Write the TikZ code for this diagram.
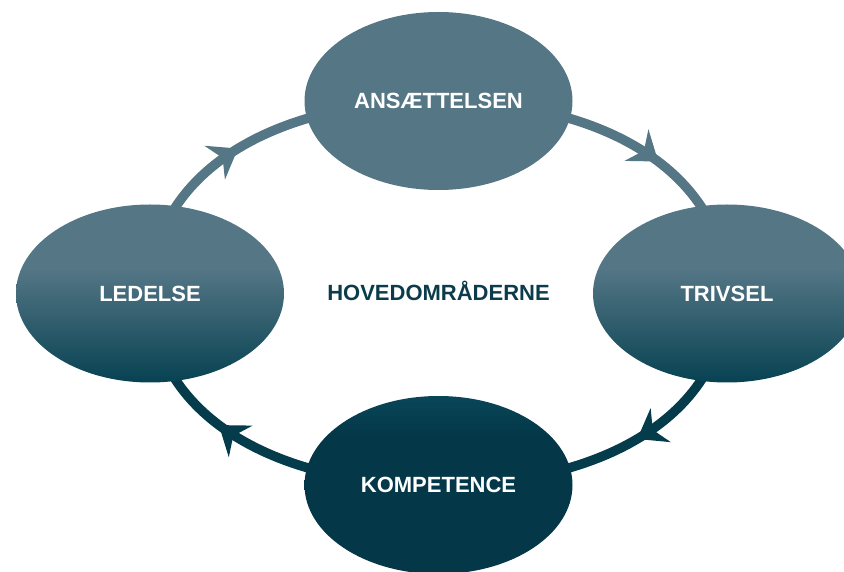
\documentclass[tikz,border=0pt]{standalone}
\usepackage{fontspec}
\setsansfont{Liberation Sans}
\usetikzlibrary{shapes.geometric,arrows.meta,decorations.markings,backgrounds}

\definecolor{lightC}{RGB}{84,118,133}
\definecolor{darkC}{RGB}{4,56,72}
\definecolor{sideLow}{RGB}{7,66,82}
\definecolor{botTop}{RGB}{9,70,88}
\definecolor{arcDark}{RGB}{5,60,76}
\definecolor{titleC}{RGB}{12,60,76}

\pgfdeclareverticalshading{sideshade}{100bp}{color(0bp)=(sideLow); color(25bp)=(sideLow); color(57bp)=(lightC); color(100bp)=(lightC)}
\pgfdeclareverticalshading{botshade}{100bp}{color(0bp)=(darkC); color(64bp)=(darkC); color(75bp)=(botTop); color(100bp)=(botTop)}

\begin{document}
\begin{tikzpicture}[x=1pt, y=1pt,
    area/.style={ellipse, minimum width=268pt, minimum height=178pt, inner sep=0pt,
      text=white, font=\sffamily\bfseries\fontsize{22}{26}\selectfont,
      text height=15.8pt, text depth=0pt},
    loopline/.style={line width=9.5pt, postaction={decorate},
      decoration={markings, mark=at position #1 with
        {\arrow{Stealth[length=27pt, width=39pt, inset=9pt]}}}}]
      \useasboundingbox (0,0) rectangle (844,571);
      % the four areas
      \node[area, fill=lightC] (ans) at (438.5,470) {ANSÆTTELSEN};
      \node[area, shading=sideshade] (led) at (150,277.5) {LEDELSE};
      \node[area, shading=sideshade] (tri) at (727,277.5) {TRIVSEL};
      \node[area, shading=botshade] (kom) at (438.5,86) {KOMPETENCE};
      \node[font=\sffamily\bfseries\fontsize{22}{26}\selectfont, text=titleC,
        text height=15.8pt, text depth=0pt] (hoved) at (438.5,278) {HOVEDOMRÅDERNE};

      % the cycle
      \begin{scope}[on background layer]
      \draw[loopline=0.46, lightC] (led.center) .. controls +(0,114) and +(-175,0) .. (ans.center);
      \draw[loopline=0.60, lightC] (ans.center) .. controls +(175,0) and +(0,114) .. (tri.center);
      \draw[loopline=0.465, arcDark] (tri.center) .. controls +(0,-114) and +(175,0) .. (kom.center);
      \draw[loopline=0.60, arcDark] (kom.center) .. controls +(-175,0) and +(0,-114) .. (led.center);
      \end{scope}
    \end{tikzpicture}
\end{document}
